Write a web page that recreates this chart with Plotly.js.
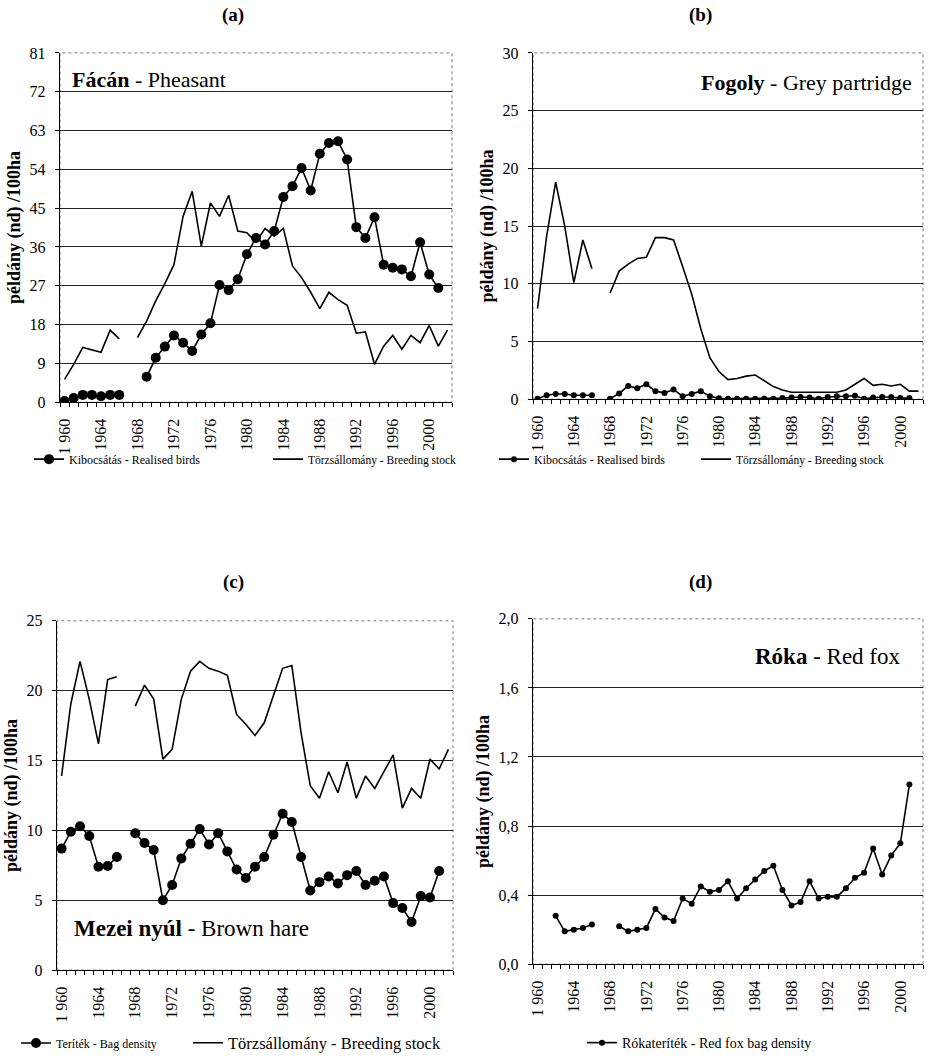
<!DOCTYPE html>
<html>
<head>
<meta charset="utf-8">
<script src="https://cdn.plot.ly/plotly-3.0.1.min.js"></script>
<style>html,body{margin:0;padding:0;background:#fff;}#chart{width:932px;height:1061px;}</style>
</head>
<body>
<div id="chart"></div>
<script>
// ---------- DATA ----------
const years = [1960,1961,1962,1963,1964,1965,1966,1967,1968,1969,1970,1971,1972,1973,1974,1975,1976,1977,1978,1979,1980,1981,1982,1983,1984,1985,1986,1987,1988,1989,1990,1991,1992,1993,1994,1995,1996,1997,1998,1999,2000,2001,2002];
const tickYears = [1960,1964,1968,1972,1976,1980,1984,1988,1992,1996,2000];
const tickLabels = ['1 960','1964','1968','1972','1976','1980','1984','1988','1992','1996','2000'];

// (a) Fácán - Pheasant
const pheasantReleased = [0.3,1.0,1.7,1.7,1.4,1.7,1.7,null,null,5.9,10.3,12.9,15.5,13.8,11.9,15.7,18.3,27.2,26.0,28.5,34.3,38.1,36.6,39.7,47.6,50.1,54.3,49.1,57.6,60.1,60.5,56.3,40.6,38.1,42.9,31.9,31.2,30.8,29.2,37.1,29.6,26.5,null];
const pheasantBreeding = [5.3,8.8,12.7,12.1,11.6,16.7,14.7,null,15.0,18.8,23.5,27.5,31.9,43.1,48.9,36.2,46.2,43.1,48.0,39.7,39.3,37.1,40.3,38.5,40.3,31.6,28.9,25.5,21.7,25.5,23.8,22.5,16.0,16.3,8.8,13.0,15.5,12.3,15.5,13.8,17.8,13.0,16.7];

// (b) Fogoly - Grey partridge
const partridgeReleased = [0.05,0.35,0.45,0.45,0.35,0.35,0.35,null,0.05,0.5,1.15,0.95,1.3,0.7,0.55,0.85,0.25,0.45,0.7,0.25,0.08,0.05,0.05,0.05,0.05,0.05,0.05,0.1,0.15,0.2,0.15,0.05,0.2,0.25,0.25,0.3,0.05,0.15,0.2,0.2,0.1,0.1,null];
const partridgeBreeding = [7.85,14.1,18.8,15.0,10.1,13.8,11.3,null,9.2,11.1,11.7,12.2,12.3,14.0,14.0,13.8,11.5,9.1,6.1,3.6,2.4,1.7,1.8,2.0,2.1,1.6,1.1,0.8,0.6,0.6,0.6,0.6,0.6,0.6,0.8,1.3,1.8,1.2,1.3,1.15,1.3,0.7,0.7];

// (c) Mezei nyúl - Brown hare
const hareBag = [8.7,9.9,10.3,9.6,7.4,7.45,8.1,null,9.8,9.1,8.6,5.0,6.1,8.0,9.05,10.1,9.0,9.8,8.5,7.2,6.6,7.4,8.1,9.7,11.2,10.6,8.1,5.7,6.3,6.7,6.2,6.8,7.1,6.1,6.4,6.7,4.8,4.45,3.45,5.3,5.2,7.1,null];
const hareBreeding = [13.9,19.05,22.1,19.4,16.2,20.8,21.0,null,18.9,20.4,19.4,15.1,15.8,19.4,21.4,22.1,21.6,21.4,21.1,18.3,17.6,16.8,17.7,19.6,21.6,21.8,17.0,13.2,12.3,14.2,12.7,14.9,12.3,13.9,13.0,14.2,15.4,11.6,13.0,12.3,15.1,14.4,15.8];

// (d) Róka - Red fox
const foxBag = [null,null,0.28,0.19,0.20,0.21,0.23,null,null,0.22,0.19,0.20,0.21,0.32,0.27,0.25,0.38,0.35,0.45,0.42,0.43,0.48,0.38,0.44,0.49,0.54,0.57,0.43,0.34,0.36,0.48,0.38,0.39,0.39,0.44,0.50,0.53,0.67,0.52,0.63,0.70,1.04,null];

// ---------- LAYOUT HELPERS ----------
const W = 932, H = 1061;
const px = x => x / W;
const py = y => 1 - y / H;
const SERIF = 'Liberation Serif, Times New Roman, serif';
const yTitle = 'példány (nd) /100ha';

function xAxis(domain, anchor){
  return {
    domain: domain, anchor: anchor, range: [1959.5, 2002.5], type: 'linear',
    tickmode: 'array', tickvals: tickYears, ticktext: tickLabels,
    tickangle: -90, ticks: '', ticklabelstandoff: 9,
    tickfont: {family: SERIF, size: 16, color: '#000'},
    showgrid: false, zeroline: false,
    showline: true, linecolor: '#000', linewidth: 1.2,
    minor: {tickmode: 'linear', tick0: 1959.5, dtick: 1, ticks: 'outside', ticklen: 4, tickcolor: '#000', tickwidth: 1, showgrid: false},
    fixedrange: true
  };
}
function yAxis(domain, anchor, range, dtick, fmt){
  return {
    domain: domain, anchor: anchor, range: range, dtick: dtick, tick0: 0,
    tickformat: fmt,
    ticks: 'outside', ticklen: 4, tickcolor: '#000', ticklabelstandoff: 6,
    tickfont: {family: SERIF, size: 16, color: '#000'},
    showgrid: true, gridcolor: '#222', gridwidth: 1,
    zeroline: false, showline: true, linecolor: '#000', linewidth: 1.2,
    title: {text: '<b>' + yTitle + '</b>', font: {family: SERIF, size: 18, color: '#000'}, standoff: 4},
    fixedrange: true
  };
}

const dom = {
  a: {x: [px(60), px(452)], y: [py(403), py(53)]},
  b: {x: [px(533), px(923)], y: [py(400), py(53)]},
  c: {x: [px(57), px(453)], y: [py(972), py(622)]},
  d: {x: [px(533), px(923)], y: [py(966), py(620)]}
};

const lineStyle = {color: '#000', width: 1.6};
const traces = [
  {x: years, y: pheasantReleased, xaxis: 'x', yaxis: 'y', mode: 'lines+markers', name: 'Kibocsátás - Realised birds',
   line: lineStyle, marker: {size: 10, color: '#000'}, legend: 'legend', showlegend: true, connectgaps: false},
  {x: years, y: pheasantBreeding, xaxis: 'x', yaxis: 'y', mode: 'lines', name: 'Törzsállomány - Breeding stock',
   line: lineStyle, legend: 'legend2', showlegend: true, connectgaps: false},
  {x: years, y: partridgeReleased, xaxis: 'x2', yaxis: 'y2', mode: 'lines+markers', name: 'Kibocsátás - Realised birds',
   line: lineStyle, marker: {size: 6, color: '#000'}, legend: 'legend3', showlegend: true, connectgaps: false},
  {x: years, y: partridgeBreeding, xaxis: 'x2', yaxis: 'y2', mode: 'lines', name: 'Törzsállomány - Breeding stock',
   line: lineStyle, legend: 'legend4', showlegend: true, connectgaps: false},
  {x: years, y: hareBag, xaxis: 'x3', yaxis: 'y3', mode: 'lines+markers', name: 'Teríték - Bag density',
   line: lineStyle, marker: {size: 10, color: '#000'}, legend: 'legend5', showlegend: true, connectgaps: false},
  {x: years, y: hareBreeding, xaxis: 'x3', yaxis: 'y3', mode: 'lines', name: 'Törzsállomány - Breeding stock',
   line: lineStyle, legend: 'legend6', showlegend: true, connectgaps: false},
  {x: years, y: foxBag, xaxis: 'x4', yaxis: 'y4', mode: 'lines+markers', name: 'Rókateríték - Red fox bag density',
   line: lineStyle, marker: {size: 6, color: '#000'}, legend: 'legend7', showlegend: true, connectgaps: false}
];

function leg(x, y, size){
  return {x: px(x), y: py(y), xref: 'paper', yref: 'paper', xanchor: 'left', yanchor: 'middle', orientation: 'h',
    bgcolor: 'rgba(0,0,0,0)', borderwidth: 0, itemwidth: 30,
    font: {family: SERIF, size: size, color: '#000'}};
}

function border(xr, yr){
  return {type: 'rect', xref: xr + ' domain', yref: yr + ' domain', x0: 0, x1: 1, y0: 0, y1: 1,
    line: {color: '#777', width: 1, dash: 'dot'}, layer: 'below'};
}

function ann(text, x, y, xanchor, size){
  return {text: text, x: px(x), y: py(y), xref: 'paper', yref: 'paper', xanchor: xanchor, yanchor: 'middle',
    showarrow: false, font: {family: SERIF, size: size, color: '#000'}};
}

const layout = {
  width: W, height: H, margin: {l: 0, r: 0, t: 0, b: 0},
  paper_bgcolor: '#fff', plot_bgcolor: '#fff',
  separators: ', ',
  showlegend: true,
  xaxis: xAxis(dom.a.x, 'y'), yaxis: yAxis(dom.a.y, 'x', [0, 81], 9),
  xaxis2: xAxis(dom.b.x, 'y2'), yaxis2: yAxis(dom.b.y, 'x2', [0, 30], 5),
  xaxis3: xAxis(dom.c.x, 'y3'), yaxis3: yAxis(dom.c.y, 'x3', [0, 25], 5),
  xaxis4: xAxis(dom.d.x, 'y4'), yaxis4: yAxis(dom.d.y, 'x4', [0, 2.0], 0.4, '.1f'),
  legend: leg(29, 460, 12),
  legend2: leg(268, 460, 11.5),
  legend3: leg(494, 460, 12),
  legend4: leg(696, 460, 11.5),
  legend5: leg(16, 1045, 12),
  legend6: leg(188, 1045, 16.5),
  legend7: leg(582, 1045, 14),
  shapes: [border('x', 'y'), border('x2', 'y2'), border('x3', 'y3'), border('x4', 'y4')],
  annotations: [
    ann('<b>(a)</b>', 233, 15, 'center', 19),
    ann('<b>(b)</b>', 700, 15, 'center', 19),
    ann('<b>(c)</b>', 233, 583, 'center', 19),
    ann('<b>(d)</b>', 700, 583, 'center', 19),
    ann('<b>Fácán</b> - Pheasant', 70, 80, 'left', 22),
    ann('<b>Fogoly</b> - Grey partridge', 914, 83, 'right', 22),
    ann('<b>Mezei nyúl</b> - Brown hare', 72, 930, 'left', 23),
    ann('<b>Róka</b> - Red fox', 903, 658, 'right', 23)
  ]
};

Plotly.newPlot('chart', traces, layout, {staticPlot: true, displayModeBar: false});
</script>
</body>
</html>
